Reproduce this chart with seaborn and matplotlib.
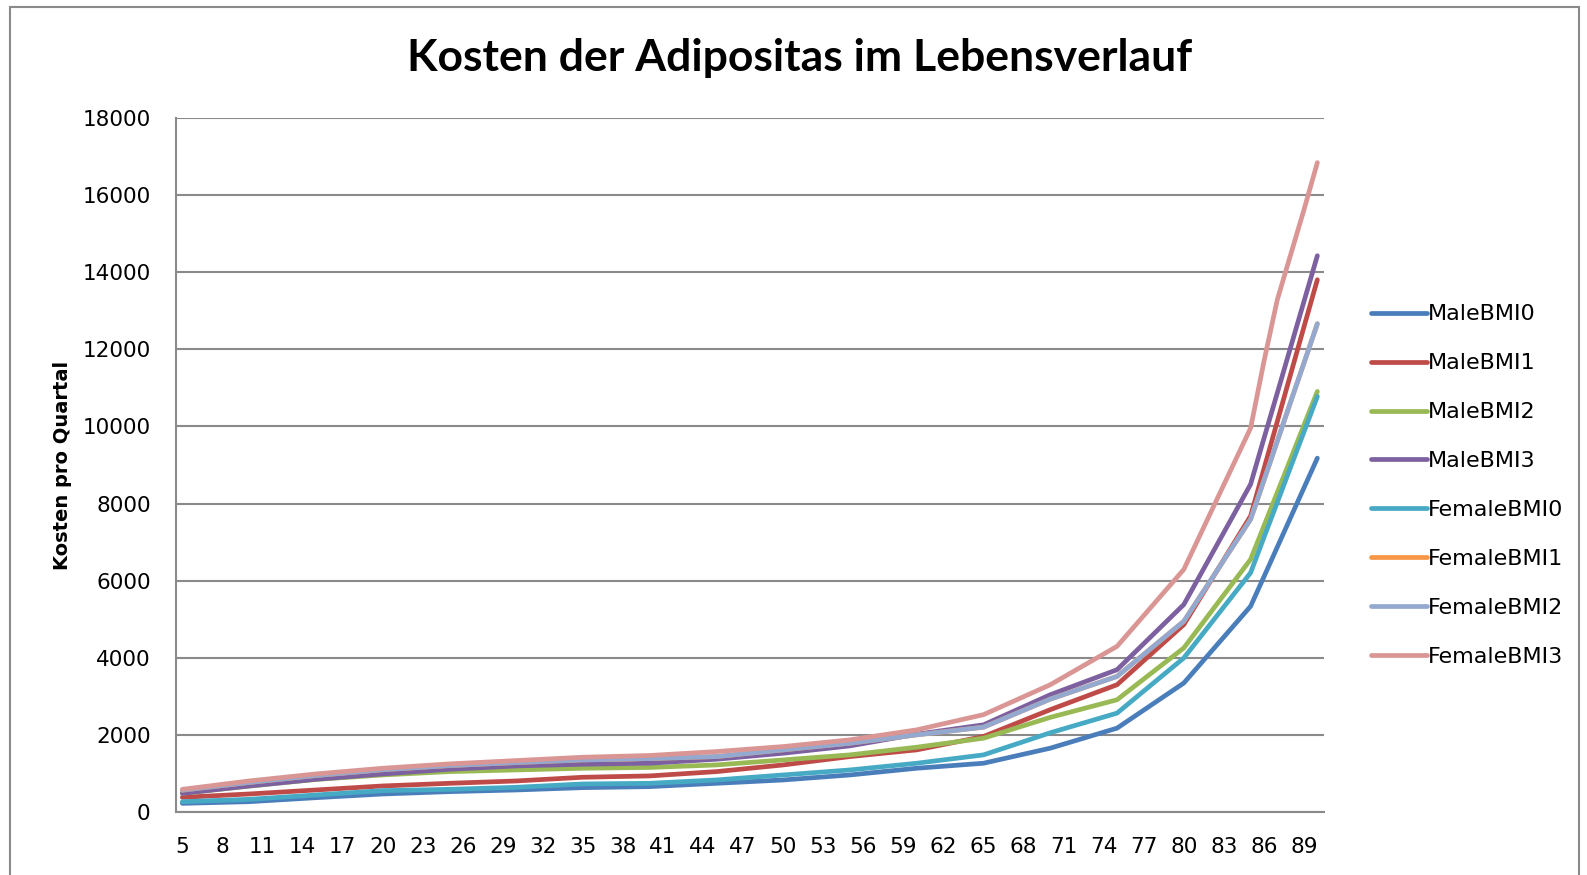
import numpy as np
import matplotlib
matplotlib.use("Agg")
import matplotlib.pyplot as plt
import seaborn as sns
from matplotlib.patches import Rectangle

ages = [5, 10, 15, 20, 25, 30, 35, 40, 45, 50, 55, 60, 65, 70, 75, 80, 85, 86, 87, 88, 89, 90]

male_bmi0 = [218, 261, 365, 461, 522, 565, 626, 652, 738, 825, 955, 1129, 1259, 1650, 2170, 3341, 5334,
             6100, 6870, 7640, 8410, 9179]
male_bmi1 = [374, 461, 565, 669, 738, 799, 895, 930, 1042, 1215, 1432, 1606, 1953, 2650, 3297, 4858, 7676,
             8900, 10130, 11360, 12590, 13810]
male_bmi2 = [478, 665, 838, 955, 1042, 1085, 1129, 1150, 1215, 1345, 1476, 1675, 1909, 2450, 2907, 4252, 6550,
             7420, 8290, 9160, 10040, 10909]
male_bmi3 = [478, 669, 843, 981, 1103, 1189, 1233, 1260, 1363, 1519, 1710, 2013, 2256, 3037, 3687, 5379, 8500,
             9690, 10870, 12060, 13250, 14433]
female_bmi0 = [261, 322, 435, 548, 582, 634, 721, 738, 825, 955, 1085, 1259, 1476, 2050, 2560, 3992, 6203,
               7120, 8030, 8950, 9860, 10779]
# FemaleBMI1 liegt vollständig unter FemaleBMI2
female_bmi1 = [560, 760, 940, 1090, 1198, 1276, 1345, 1380, 1432, 1606, 1779, 1996, 2195, 2924, 3513, 4944, 7590,
               8600, 9620, 10640, 11650, 12667]
female_bmi2 = [560, 760, 940, 1090, 1198, 1276, 1345, 1380, 1432, 1606, 1779, 1996, 2195, 2924, 3513, 4944, 7590,
               8600, 9620, 10640, 11650, 12667]
female_bmi3 = [582, 799, 981, 1129, 1242, 1328, 1415, 1460, 1562, 1692, 1866, 2126, 2520, 3297, 4294, 6290, 9958,
               11688, 13290, 14460, 15628, 16850]

series_names = ["MaleBMI0", "MaleBMI1", "MaleBMI2", "MaleBMI3",
                "FemaleBMI0", "FemaleBMI1", "FemaleBMI2", "FemaleBMI3"]
series_vals = [male_bmi0, male_bmi1, male_bmi2, male_bmi3,
               female_bmi0, female_bmi1, female_bmi2, female_bmi3]
colors = ["#4A7EBB", "#BE4B48", "#98B954", "#7D60A0",
          "#46AAC5", "#F79646", "#93A9D0", "#D99694"]

sns.set_style("white")
plt.rcParams['font.family'] = ['DejaVu Sans']

fig = plt.figure(figsize=(15.87, 8.75), dpi=100)
ax = fig.add_axes([0.1107, 0.0723, 0.7236, 0.7925])

for name, vals, c in zip(series_names, series_vals, colors):
    sns.lineplot(x=ages, y=vals, ax=ax, color=c, linewidth=3.4, label=name)

ax.set_xlim(4.5, 90.5)
ax.set_ylim(0, 18000)
ax.set_yticks(range(0, 18001, 2000))
ax.set_xticks(range(5, 90, 3))
ax.tick_params(axis='both', length=0, labelsize=15.5, labelcolor='black')
ax.tick_params(axis='y', pad=18)
ax.tick_params(axis='x', pad=18)
ax.grid(axis='y', color='#8a8a8a', linewidth=1.5)
ax.set_axisbelow(True)
for s in ['top', 'right']:
    ax.spines[s].set_visible(False)
for s in ['left', 'bottom']:
    ax.spines[s].set_color('#8a8a8a')
    ax.spines[s].set_linewidth(1.5)

ax.set_ylabel('Kosten pro Quartal', fontsize=14, fontweight='bold', color='black')
ax.yaxis.set_label_coords(-0.09, 0.5)

fig.text(0.504, 0.934, 'Kosten der Adipositas im Lebensverlauf', ha='center', va='center',
         fontsize=32, fontweight='bold', color='black', family=['Lato', 'DejaVu Sans'])

leg = ax.legend(loc='upper left', bbox_to_anchor=(0.864, 0.652), bbox_transform=fig.transFigure,
                frameon=False, fontsize=16, handlelength=2.5, handletextpad=0.05,
                labelspacing=1.3, borderaxespad=0, borderpad=0)
for t in leg.get_texts():
    t.set_color('black')

# äußerer Diagrammrahmen
fig.add_artist(Rectangle((10 / 1587, -0.05), 1569 / 1587, 0.9923 + 0.05,
                         transform=fig.transFigure, fill=False, edgecolor='#8a8a8a', linewidth=1.5))

fig.savefig('out.png', dpi=100)
